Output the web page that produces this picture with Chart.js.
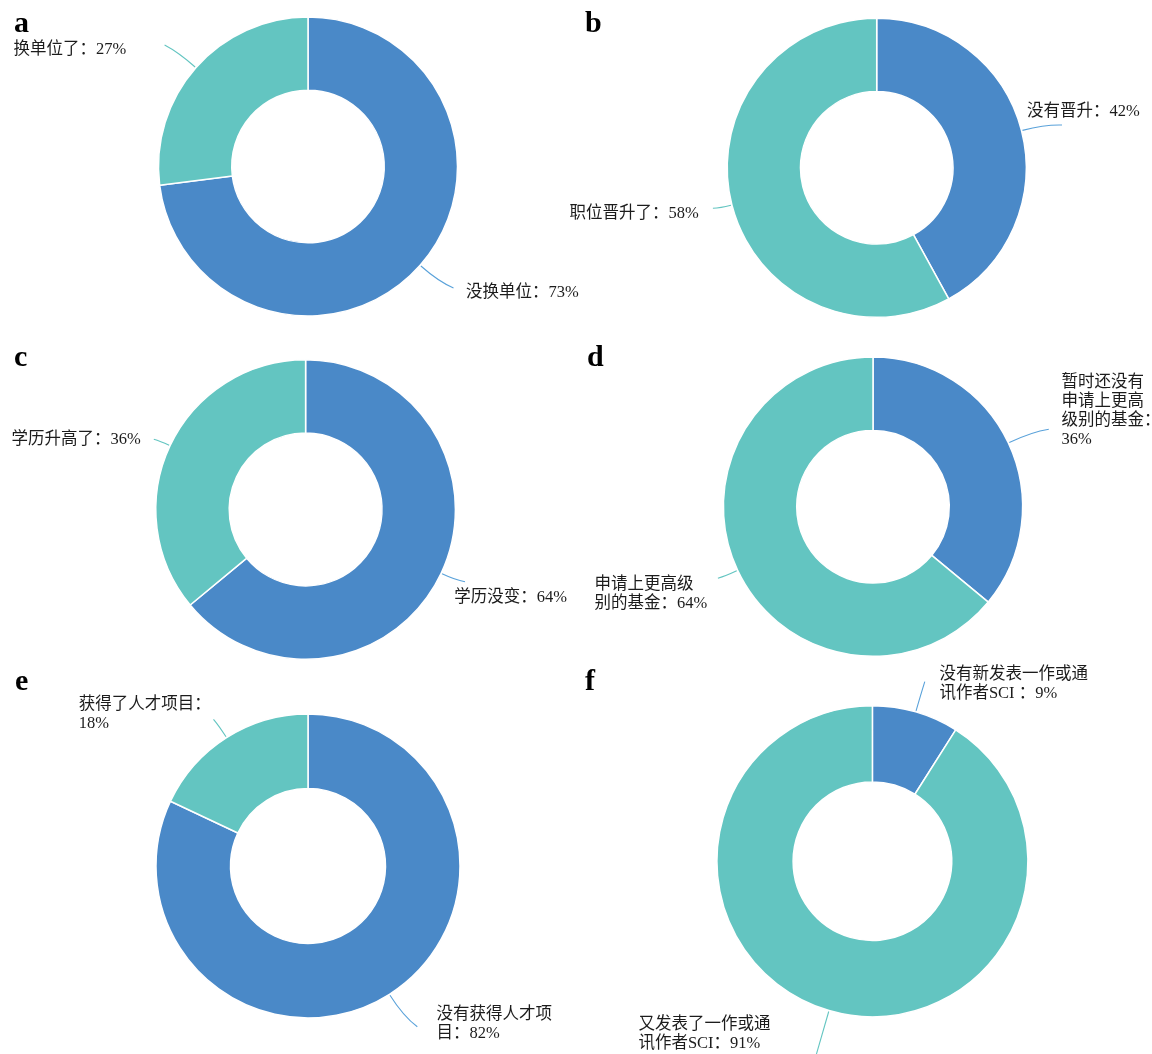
<!DOCTYPE html>
<html>
<head>
<meta charset="utf-8">
<script src="https://cdn.jsdelivr.net/npm/chart.js@4.4.1/dist/chart.umd.min.js"></script>
<style>
  html, body { margin: 0; padding: 0; background: #fff; }
  #wrap { position: relative; width: 1152px; height: 1054px; overflow: hidden; }
  #wrap canvas { position: absolute; left: 0; top: 0; }
</style>
</head>
<body>
<div id="wrap"></div>
<script>
// data, one small set per panel (percentages)
const labelsA = ['没换单位', '换单位了'];
const valuesA = [73, 27];
const labelsB = ['没有晋升', '职位晋升了'];
const valuesB = [42, 58];
const labelsC = ['学历没变', '学历升高了'];
const valuesC = [64, 36];
const labelsD = ['暂时还没有申请上更高级别的基金', '申请上更高级别的基金'];
const valuesD = [36, 64];
const labelsE = ['没有获得人才项目', '获得了人才项目'];
const valuesE = [82, 18];
const labelsF = ['没有新发表一作或通讯作者SCI ', '又发表了一作或通讯作者SCI'];
const valuesF = [9, 91];

const BLUE = '#4a89c8';
const TEAL = '#63c5c1';
const LINE_BLUE = '#5aa2da';
const W = 1152, H = 1054;
const FONT = '16.5px "Liberation Serif", "Noto Sans CJK SC"';

// split text into lines no wider than maxW, full-width colon may hang
function wrapText(ctx, text, maxW) {
  const tokens = text.match(/[A-Za-z0-9%. ]+|./g);
  const lines = [];
  let cur = '';
  tokens.forEach(t => {
    if (t === '：' || cur === '') { cur += t; return; }
    if (ctx.measureText(cur + t).width > maxW) {
      lines.push(cur);
      cur = t;
    } else {
      cur += t;
    }
  });
  if (cur) lines.push(cur);
  return lines;
}

const leaderLabels = {
  id: 'leaderLabels',
  afterDatasetsDraw(chart, args, opts) {
    const ctx = chart.ctx;
    const meta = chart.getDatasetMeta(0);
    const names = chart.data.labels;
    const vals = chart.data.datasets[0].data;
    ctx.save();
    meta.data.forEach((arc, i) => {
      const p = opts.place[i];
      const {x, y, startAngle, endAngle, outerRadius} =
        arc.getProps(['x', 'y', 'startAngle', 'endAngle', 'outerRadius'], true);
      const mid = (startAngle + endAngle) / 2;
      const ux = Math.cos(mid), uy = Math.sin(mid);
      const sx = x + ux * (outerRadius + 1);
      const sy = y + uy * (outerRadius + 1);
      const d = Math.hypot(p.ex - sx, p.ey - sy);
      ctx.strokeStyle = opts.lineColors[i];
      ctx.lineWidth = 1.1;
      ctx.beginPath();
      ctx.moveTo(sx, sy);
      ctx.quadraticCurveTo(sx + ux * d * 0.6, sy + uy * d * 0.6, p.ex, p.ey);
      ctx.stroke();

      ctx.font = FONT;
      ctx.fillStyle = '#1c1c1c';
      ctx.textAlign = 'left';
      ctx.textBaseline = 'middle';
      const lines = wrapText(ctx, names[i] + '：' + vals[i] + '%', p.wrap || Infinity);
      lines.forEach((ln, k) => ctx.fillText(ln, p.tx, p.ty + k * 19));
    });
    ctx.font = 'bold 30px "Liberation Serif"';
    ctx.fillStyle = '#000';
    ctx.textBaseline = 'alphabetic';
    ctx.fillText(opts.letter.text, opts.letter.x, opts.letter.y);
    ctx.restore();
  }
};

const panels = [
  { labels: labelsA, values: valuesA, cx: 308, cy: 166.5, r: 149.5,
    letter: { text: 'a', x: 14, y: 32 },
    place: [{ ex: 453.5, ey: 288, tx: 466, ty: 292.7 },
            { ex: 164.6, ey: 45, tx: 13.4, ty: 50 }] },
  { labels: labelsB, values: valuesB, cx: 876.7, cy: 167.8, r: 149.5,
    letter: { text: 'b', x: 585, y: 32 },
    place: [{ ex: 1062, ey: 125, tx: 1027, ty: 111.7 },
            { ex: 712.9, ey: 208.3, tx: 569.4, ty: 213.3 }] },
  { labels: labelsC, values: valuesC, cx: 305.6, cy: 509.5, r: 149.8,
    letter: { text: 'c', x: 14, y: 366 },
    place: [{ ex: 465, ey: 581.7, tx: 454.3, ty: 597.3 },
            { ex: 153.8, ey: 439.3, tx: 11.5, ty: 440 }] },
  { labels: labelsD, values: valuesD, cx: 873, cy: 506.7, r: 149.6,
    letter: { text: 'd', x: 587, y: 366 },
    place: [{ ex: 1048.8, ey: 429.3, tx: 1061.6, ty: 382.7, wrap: 90 },
            { ex: 717.9, ey: 578.3, tx: 594.6, ty: 584.3, wrap: 114 }] },
  { labels: labelsE, values: valuesE, cx: 308, cy: 866, r: 152,
    letter: { text: 'e', x: 15, y: 690 },
    place: [{ ex: 417.3, ey: 1026.7, tx: 436.5, ty: 1015, wrap: 124 },
            { ex: 213.5, ey: 719.3, tx: 78.8, ty: 705, wrap: 124 }] },
  { labels: labelsF, values: valuesF, cx: 872.4, cy: 861.2, r: 155.5,
    letter: { text: 'f', x: 585, y: 690 },
    place: [{ ex: 924.8, ey: 681.7, tx: 939.4, ty: 675, wrap: 156 },
            { ex: 815.3, ey: 1058, tx: 638.4, ty: 1024.3, wrap: 140 }] }
];

const wrap = document.getElementById('wrap');
panels.forEach(p => {
  const canvas = document.createElement('canvas');
  canvas.width = W;
  canvas.height = H;
  wrap.appendChild(canvas);
  const s = p.r + 3;
  new Chart(canvas.getContext('2d'), {
    type: 'doughnut',
    data: {
      labels: p.labels,
      datasets: [{
        data: p.values,
        backgroundColor: [BLUE, TEAL],
        borderColor: '#ffffff',
        borderWidth: 1.5
      }]
    },
    options: {
      responsive: false,
      animation: false,
      events: [],
      radius: p.r,
      cutout: '51%',
      layout: {
        padding: { left: p.cx - s, top: p.cy - s, right: W - p.cx - s, bottom: H - p.cy - s }
      },
      plugins: {
        legend: { display: false },
        tooltip: { enabled: false },
        leaderLabels: {
          place: p.place,
          letter: p.letter,
          lineColors: [LINE_BLUE, TEAL]
        }
      }
    },
    plugins: [leaderLabels]
  });
});
</script>
</body>
</html>
